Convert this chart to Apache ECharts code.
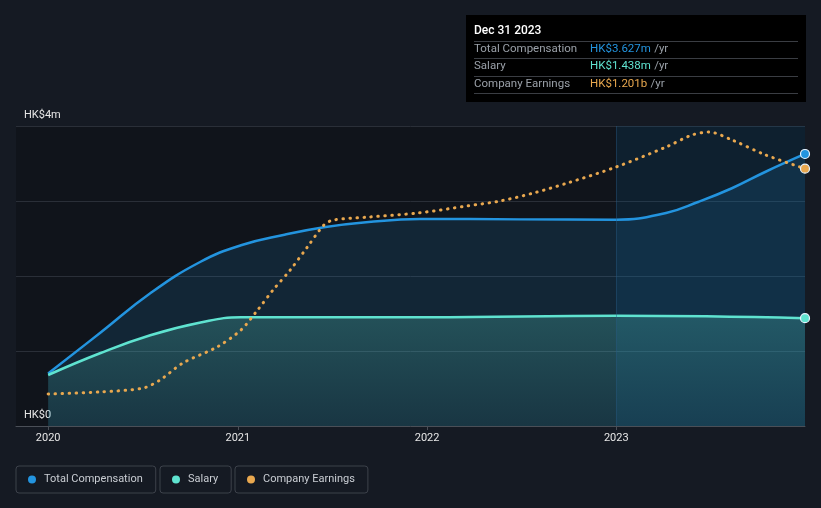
<!DOCTYPE html>
<html>
<head>
<meta charset="utf-8">
<script src="https://cdn.jsdelivr.net/npm/echarts@6/dist/echarts.min.js"></script>
<style>
html,body{margin:0;padding:0;background:#151a23;}
#c{width:821px;height:508px;}
</style>
</head>
<body>
<div id="c"></div>
<script>
// ---- data ----
const compDates = ['2020-01-01','2020-04-10','2020-07-16','2020-10-21','2021-01-07','2021-04-01','2021-06-16','2021-09-10','2021-12-18','2022-06-30','2023-01-01','2023-04-07','2023-06-09','2023-08-12','2023-10-16','2023-12-31'];
const compValues = [0.70,1.24,1.77,2.19,2.41,2.55,2.65,2.72,2.76,2.755,2.75,2.84,2.99,3.17,3.39,3.627];

const salaryDates = ['2020-01-01','2020-04-10','2020-07-16','2020-10-21','2021-01-07','2022-01-01','2023-01-01','2023-12-31'];
const salaryValues = [0.68,0.97,1.21,1.38,1.45,1.45,1.47,1.438];

const earnDates = ['2020-01-01','2020-04-10','2020-07-02','2020-08-04','2020-09-17','2020-11-22','2021-01-07','2021-02-08','2021-03-10','2021-04-12','2021-05-15','2021-06-16','2021-07-04','2021-09-10','2021-12-14','2022-03-20','2022-05-22','2022-07-25','2022-09-29','2023-01-01','2023-04-07','2023-05-27','2023-06-29','2023-08-12','2023-10-16','2023-12-31'];
const earnValues = [0.149,0.159,0.177,0.215,0.294,0.369,0.448,0.541,0.635,0.728,0.835,0.938,0.961,0.975,0.994,1.027,1.05,1.087,1.134,1.209,1.302,1.358,1.372,1.335,1.265,1.201];

const xMinDate = '2019-10-31', xMaxDate = '2023-12-31', highlightStart = '2023-01-01';
const yearTicks = [2020, 2021, 2022, 2023];
const yTickLabels = {0: 'HK$0', 4: 'HK$4m'};
const seriesNames = ['Total Compensation', 'Salary', 'Company Earnings'];
const tooltipTitle = 'Dec 31 2023';
const tooltipValues = ['HK$3.627m', 'HK$1.438m', 'HK$1.201b'];

// ---- helpers / styles ----
const C_COMP = '#2394df', C_SAL = '#5fe3d0', C_EARN = '#e9a84f';
const FONT = 'Roboto, "Noto Sans", sans-serif';
function ts(s) { const p = s.split('-').map(Number); return new Date(p[0], p[1] - 1, p[2]).getTime(); }

function pairs(dates, vals, color) {
  return dates.map((d, i) => {
    const item = { value: [ts(d), vals[i]] };
    if (i === dates.length - 1) {
      item.symbol = 'circle';
      item.symbolSize = 9;
      item.itemStyle = { color: color, borderColor: '#e8f4ff', borderWidth: 1.2 };
    }
    return item;
  });
}
const yearTs = yearTicks.map(y => new Date(y, 0, 1).getTime());

const chart = echarts.init(document.getElementById('c'), null, { renderer: 'canvas' });

const legendBase = {
  top: 466, orient: 'horizontal', icon: 'circle', itemWidth: 8, itemHeight: 8,
  borderColor: '#3d424b', borderWidth: 1, borderRadius: 3, padding: [8, 13, 8, 12],
  textStyle: { color: '#c9cdd3', fontSize: 11, fontFamily: FONT, padding: [0, 0, 0, 3] },
  selectedMode: false
};

const rowY = [49, 66, 84];
const rowColors = [C_COMP, C_SAL, C_EARN];
const graphics = [
  { type: 'rect', shape: { x: 466, y: 15, width: 340, height: 87 }, style: { fill: '#000000' }, z: 100 },
  { type: 'text', x: 474, y: 31, style: { text: tooltipTitle, fill: '#ffffff', fontSize: 12, fontFamily: FONT, fontWeight: 500, verticalAlign: 'middle' }, z: 101 }
];
[41, 58, 76, 93].forEach(y => graphics.push({ type: 'line', shape: { x1: 474, y1: y + 0.5, x2: 798, y2: y + 0.5 }, style: { stroke: '#3a3d43', lineWidth: 1 }, z: 101 }));
seriesNames.forEach((n, i) => {
  graphics.push({ type: 'text', x: 474, y: rowY[i], style: { text: n, fill: '#9aa0a8', fontSize: 11.5, fontFamily: FONT, verticalAlign: 'middle' }, z: 101 });
  graphics.push({ type: 'text', x: 590, y: rowY[i], style: { text: '{v|' + tooltipValues[i] + '} {u|/yr}', verticalAlign: 'middle', rich: { v: { fill: rowColors[i], fontSize: 11.5, fontFamily: FONT }, u: { fill: '#9aa0a8', fontSize: 11.5, fontFamily: FONT } } }, z: 101 });
});

const option = {
  backgroundColor: '#151a23',
  animation: false,
  grid: { left: 16, right: 16, top: 126, bottom: 82, show: true, backgroundColor: '#10141b', borderWidth: 0 },
  legend: [
    Object.assign({}, legendBase, { left: 16, data: [seriesNames[0]] }),
    Object.assign({}, legendBase, { left: 160, data: [seriesNames[1]] }),
    Object.assign({}, legendBase, { left: 235, data: [seriesNames[2]] })
  ],
  xAxis: {
    type: 'value', min: ts(xMinDate), max: ts(xMaxDate),
    axisLine: { show: true, lineStyle: { color: '#4a4f57', width: 1 } },
    axisTick: { show: true, length: 4, lineStyle: { color: '#4a4f57' }, customValues: yearTs },
    axisLabel: { color: '#e6e6e6', fontSize: 11, fontFamily: FONT, margin: 7, customValues: yearTs,
      formatter: v => String(new Date(v).getFullYear()) },
    splitLine: { show: false }
  },
  yAxis: [
    {
      type: 'value', min: 0, max: 4, interval: 1,
      axisLine: { show: false }, axisTick: { show: false },
      splitLine: { show: true, lineStyle: { color: '#2a2f38', width: 1 } },
      axisLabel: { inside: true, margin: 8, verticalAlign: 'bottom', padding: [0, 0, 5, 0], color: '#e6e6e6', fontSize: 11, fontFamily: FONT,
        formatter: v => (yTickLabels[v] !== undefined ? yTickLabels[v] : '') }
    },
    { type: 'value', min: 0, max: 1.4, show: false, splitLine: { show: false } }
  ],
  graphic: graphics,
  series: [
    {
      name: seriesNames[0], type: 'line', yAxisIndex: 0, smooth: 0.45,
      symbol: 'none', showAllSymbol: true,
      lineStyle: { color: C_COMP, width: 2.5 }, itemStyle: { color: C_COMP },
      areaStyle: { color: 'rgba(35,148,223,0.2)' },
      data: pairs(compDates, compValues, C_COMP),
      markArea: { silent: true, itemStyle: { color: 'rgba(10,100,167,0.15)' },
        data: [[{ xAxis: ts(highlightStart) }, { xAxis: ts(xMaxDate) }]] },
      markLine: { silent: true, symbol: 'none', label: { show: false },
        lineStyle: { color: 'rgba(40,90,130,0.45)', type: 'solid', width: 1 },
        data: [{ xAxis: ts(highlightStart) }] },
      z: 3
    },
    {
      name: seriesNames[1], type: 'line', yAxisIndex: 0, smooth: 0.45,
      symbol: 'none', showAllSymbol: true,
      lineStyle: { color: C_SAL, width: 2.5 }, itemStyle: { color: C_SAL },
      areaStyle: { color: { type: 'linear', x: 0, y: 0, x2: 0, y2: 1, colorStops: [
        { offset: 0, color: 'rgba(95,224,205,0.33)' }, { offset: 1, color: 'rgba(95,224,205,0.12)' } ] } },
      data: pairs(salaryDates, salaryValues, C_SAL),
      z: 4
    },
    {
      name: seriesNames[2], type: 'line', yAxisIndex: 1, smooth: 0.3,
      symbol: 'none', showAllSymbol: true,
      lineStyle: { color: C_EARN, width: 3, type: [0.5, 6.5], cap: 'round' }, itemStyle: { color: C_EARN },
      data: pairs(earnDates, earnValues, C_EARN),
      z: 5
    }
  ]
};
chart.setOption(option);
</script>
</body>
</html>
